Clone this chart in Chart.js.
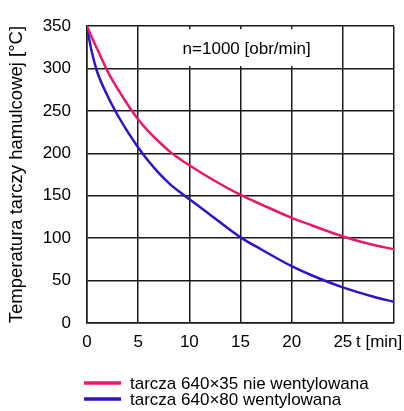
<!DOCTYPE html>
<html>
<head>
<meta charset="utf-8">
<script src="https://cdn.jsdelivr.net/npm/chart.js@4"></script>
<style>
  html, body { margin: 0; padding: 0; background: #fff; }
  #wrap { width: 404px; height: 411px; }
</style>
</head>
<body>
<div id="wrap"><canvas id="brakeChart" width="404" height="411"></canvas></div>
<script>
// time [min] and disc temperature [°C]
const timeMin = [0, 0.5, 1, 2, 3, 4, 5, 6, 7, 8, 9, 10, 12, 15, 17, 20, 22, 25, 28, 30];
const discSolid = [350, 336, 323, 297, 276, 257, 240, 226, 214, 203, 194, 186, 171, 151, 140, 124, 115, 102, 92, 87];
const discVented = [348, 318, 296, 268, 245, 225, 207, 191, 177, 165, 155, 146, 128, 101, 87, 67, 56, 42, 31, 25];
const seriesLabels = ['tarcza 640×35 nie wentylowana', 'tarcza 640×80 wentylowana'];
const xTicks = [0, 5, 10, 15, 20, 25, 30];
const yTicks = [0, 50, 100, 150, 200, 250, 300, 350];

const toPoints = (ys) => ys.map((y, i) => ({ x: timeMin[i], y: y }));
const FONT = 'Arial, "Liberation Sans", sans-serif';

// extra texts: axis unit, rpm note, legend
const extras = {
    id: 'extras',
    afterDatasetsDraw(chart) {
        const c = chart.ctx;
        const xs = chart.scales.x;
        const ys = chart.scales.y;
        c.save();
        // rpm note with white background over grid
        const nx = xs.getPixelForValue(15.6);
        const ny = ys.getPixelForValue(323);
        c.fillStyle = '#fff';
        c.fillRect(nx - 76, ny - 20, 152, 37);
        c.fillStyle = '#000';
        c.font = '17px ' + FONT;
        c.textAlign = 'center';
        c.textBaseline = 'middle';
        c.fillText('n=1000 [obr/min]', nx, ny);
        c.restore();
    },
    afterDraw(chart) {
        const c = chart.ctx;
        c.save();
        c.fillStyle = '#000';
        c.font = '17px ' + FONT;
        c.textAlign = 'left';
        c.textBaseline = 'middle';
        c.fillText('t [min]', 356, 342);
        // legend
        chart.data.datasets.forEach((ds, i) => {
            const y = 383 + i * 16;
            c.strokeStyle = ds.borderColor;
            c.lineWidth = 3.5;
            c.beginPath();
            c.moveTo(84, y);
            c.lineTo(121, y);
            c.stroke();
            c.fillStyle = '#000';
            c.fillText(ds.label, 130, y + 1);
        });
        c.restore();
    }
};

const ctx = document.getElementById('brakeChart').getContext('2d');
const brakeChart = new Chart(ctx, {
    type: 'line',
    data: {
        datasets: [{
            label: seriesLabels[0],
            data: toPoints(discSolid),
            borderColor: '#e8186c',
            borderWidth: 2.5,
            pointRadius: 0,
            cubicInterpolationMode: 'monotone',
            fill: false
        }, {
            label: seriesLabels[1],
            data: toPoints(discVented),
            borderColor: '#2d14cc',
            borderWidth: 2.5,
            pointRadius: 0,
            cubicInterpolationMode: 'monotone',
            fill: false
        }]
    },
    options: {
        responsive: false,
        animation: false,
        layout: { padding: { top: 14, right: 10, bottom: 48, left: 0 } },
        plugins: {
            legend: { display: false },
            tooltip: { enabled: false }
        },
        scales: {
            x: {
                type: 'linear',
                min: 0,
                max: 30,
                afterBuildTicks: (s) => { s.ticks = xTicks.map(v => ({ value: v })); },
                afterFit: (s) => { s.height = 40; },
                grid: { color: '#1a1a1a', lineWidth: 1.5, drawTicks: false },
                border: { color: '#1a1a1a', width: 1.5 },
                ticks: {
                    color: '#000',
                    padding: 9,
                    maxRotation: 0,
                    font: { family: FONT, size: 17 },
                    callback: (v) => (v === 30 ? '' : v)
                }
            },
            y: {
                min: 0,
                max: 350,
                afterBuildTicks: (s) => { s.ticks = yTicks.map(v => ({ value: v })); },
                afterFit: (s) => { s.width = 87; },
                grid: { color: '#1a1a1a', lineWidth: 1.5, drawTicks: false },
                border: { color: '#1a1a1a', width: 1.5 },
                title: {
                    display: true,
                    text: 'Temperatura tarczy hamulcowej [°C]',
                    color: '#000',
                    padding: { top: 6, bottom: 0 },
                    font: { family: FONT, size: 18.5 }
                },
                ticks: {
                    color: '#000',
                    padding: 16,
                    font: { family: FONT, size: 17 }
                }
            }
        }
    },
    plugins: [extras]
});
</script>
</body>
</html>
